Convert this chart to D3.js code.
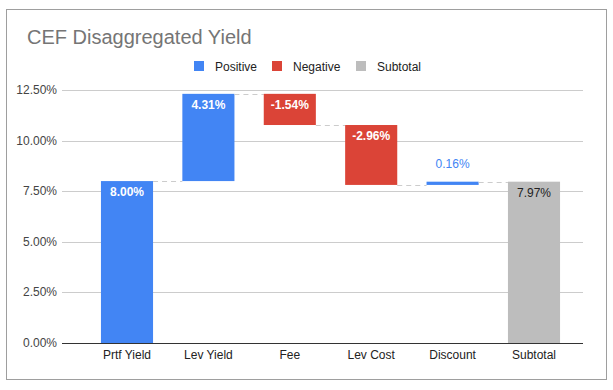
<!DOCTYPE html>
<html><head><meta charset="utf-8">
<script src="https://cdn.jsdelivr.net/npm/d3@7"></script>
<style>body{margin:0;background:#fff;}svg{display:block;font-family:"Liberation Sans",Arial,sans-serif;}</style>
</head><body>
<script>
const categories = ["Prtf Yield","Lev Yield","Fee","Lev Cost","Discount","Subtotal"];
const values = [8.00, 4.31, -1.54, -2.96, 0.16, 7.97];
const kinds = ["Positive","Positive","Negative","Negative","Positive","Subtotal"];
const yTicks = [0, 2.5, 5, 7.5, 10, 12.5];
const legendItems = ["Positive","Negative","Subtotal"];
const colors = {Positive:"#4285f4", Negative:"#db4437", Subtotal:"#bdbdbd"};

const W=613,H=390;
const svg=d3.select("body").append("svg").attr("width",W).attr("height",H);
svg.append("rect").attr("x",6.5).attr("y",9.5).attr("width",600).attr("height",370).attr("fill","#fff").attr("stroke","#9e9e9e").attr("stroke-width",1);

svg.append("text").attr("x",27).attr("y",44).attr("font-size",20).attr("fill","#757575").text("CEF Disaggregated Yield");

// legend
const legX=[194,272,356];
legendItems.forEach((k,i)=>{
  svg.append("rect").attr("x",legX[i]).attr("y",61).attr("width",10).attr("height",10).attr("fill",colors[k]);
  svg.append("text").attr("x",legX[i]+21).attr("y",70.5).attr("font-size",12).attr("fill","#222").text(k);
});

const y=d3.scaleLinear().domain([0,12.5]).range([343,90]);
const x=d3.scaleBand().domain(categories).range([86.3,574.7]).paddingInner(0.36).paddingOuter(0.18);
const gx0=62,gx1=583;

const grid=svg.append("g");
yTicks.forEach(t=>{
  grid.append("line").attr("x1",gx0).attr("x2",gx1).attr("y1",Math.round(y(t))+0.5).attr("y2",Math.round(y(t))+0.5)
    .attr("stroke",t===0?"#333":"#ccc").attr("stroke-width",1);
  svg.append("text").attr("x",57).attr("y",y(t)+4).attr("text-anchor","end").attr("font-size",12).attr("fill","#444").text(t.toFixed(2)+"%");
});

// waterfall
let run=0;
const bars=categories.map((c,i)=>{
  let start,end;
  if(kinds[i]==="Subtotal"){start=0;end=values[i];run=values[i];}
  else if(i===0){start=0;end=values[i];run=end;}
  else {start=run;end=run+values[i];run=end;}
  return {c,v:values[i],k:kinds[i],start,end};
});

bars.forEach((b,i)=>{
  const top=y(Math.max(b.start,b.end)), bot=y(Math.min(b.start,b.end));
  svg.append("rect").attr("x",x(b.c)).attr("width",x.bandwidth()).attr("y",top).attr("height",Math.max(bot-top,3)).attr("fill",colors[b.k]);
  if(i<bars.length-1){
    const nb=bars[i+1];
    const ly=Math.round(y(b.end))+0.5;
    svg.append("line").attr("x1",x(b.c)+x.bandwidth()).attr("x2",x(nb.c)).attr("y1",ly).attr("y2",ly)
      .attr("stroke","#ccc").attr("stroke-dasharray","5,4");
  }
  const lab=b.v.toFixed(2)+"%";
  const cx=x(b.c)+x.bandwidth()/2;
  if(b.k==="Subtotal"){
    svg.append("text").attr("x",cx).attr("y",top+15).attr("text-anchor","middle").attr("font-size",12).attr("fill","#222").text(lab);
  } else if(Math.abs(b.v)<0.5){
    svg.append("text").attr("x",cx).attr("y",top-14).attr("text-anchor","middle").attr("font-size",12).attr("fill",colors[b.k]).text(lab);
  } else {
    svg.append("text").attr("x",cx).attr("y",top+15).attr("text-anchor","middle").attr("font-size",12).attr("font-weight","bold").attr("fill","#fff").text(lab);
  }
  svg.append("text").attr("x",cx).attr("y",359).attr("text-anchor","middle").attr("font-size",12).attr("fill","#222").text(b.c);
});
</script>
</body></html>
